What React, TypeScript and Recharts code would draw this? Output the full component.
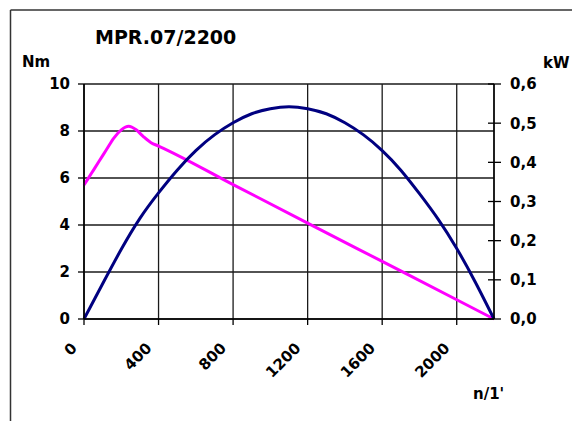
import { LineChart, Line, XAxis, YAxis, CartesianGrid } from "recharts"

const FONT = "'DejaVu Sans', Verdana, sans-serif"

// torque curve, Nm over rpm
const torqueRpm = [0, 40, 80, 120, 160, 200, 240, 280, 320, 360, 400, 800, 1200, 1600, 2000, 2200]
const torqueNm = [5.7, 6.2, 6.7, 7.2, 7.7, 8.05, 8.2, 8.05, 7.75, 7.5, 7.36, 5.72, 4.08, 2.45, 0.82, 0]

// power curve, kW over rpm
const powerRpm = [0, 100, 200, 300, 400, 500, 600, 700, 800, 900, 1000, 1100, 1200, 1300, 1400, 1500, 1600, 1700, 1800, 1900, 2000, 2100, 2200]
const powerKw = [0, 0.09, 0.178, 0.257, 0.322, 0.38, 0.43, 0.47, 0.501, 0.524, 0.537, 0.542, 0.537, 0.524, 0.501, 0.47, 0.43, 0.38, 0.32, 0.255, 0.18, 0.094, 0]

const rpmTicks = [0, 400, 800, 1200, 1600, 2000]
const nmTicks = [0, 2, 4, 6, 8, 10]
const kwTicks = [0, 0.1, 0.2, 0.3, 0.4, 0.5, 0.6]

const torqueData = torqueRpm.map((n, i) => ({ n, nm: torqueNm[i] }))
const powerData = powerRpm.map((n, i) => ({ n, kw: powerKw[i] }))

const labelStyle = { fontFamily: FONT, fontWeight: 700, fontSize: 15, fill: "#000" }

function LeftTick({ x, y, payload }: any) {
  return (
    <g>
      <line x1={x - 6} x2={x} y1={y} y2={y} stroke="#000" strokeWidth={1.3} />
      <text x={x - 14} y={y} dy="0.36em" textAnchor="end" style={labelStyle}>
        {payload.value}
      </text>
    </g>
  )
}

function RightTick({ x, y, payload }: any) {
  return (
    <g>
      <line x1={x - 6} x2={x + 7} y1={y} y2={y} stroke="#000" strokeWidth={1.3} />
      <text x={x + 16} y={y} dy="0.36em" textAnchor="start" style={labelStyle}>
        {payload.value.toFixed(1).replace(".", ",")}
      </text>
    </g>
  )
}

function BottomTick({ x, y, payload }: any) {
  const tx = x - 6
  const ty = y + 30
  return (
    <g>
      <line x1={x} x2={x} y1={y} y2={y + 6} stroke="#000" strokeWidth={1.3} />
      <text x={tx} y={ty} textAnchor="end" transform={`rotate(-45, ${tx}, ${ty})`} style={labelStyle}>
        {payload.value}
      </text>
    </g>
  )
}

export default function App() {
  return (
    <div style={{ position: "absolute", left: 0, top: 0, width: 572, height: 421, background: "#fff" }}>
      <LineChart width={572} height={421} margin={{ top: 84, right: 0, bottom: 0, left: 0 }}>
        <CartesianGrid yAxisId="nm" stroke="#1a1a1a" strokeWidth={1.3} />
        <XAxis
          dataKey="n"
          type="number"
          domain={[0, 2200]}
          ticks={rpmTicks}
          height={102}
          tickSize={0}
          tickMargin={0}
          tickLine={false}
          tick={<BottomTick />}
          axisLine={{ stroke: "#000", strokeWidth: 1.6 }}
          allowDuplicatedCategory={false}
        />
        <YAxis
          yAxisId="nm"
          domain={[0, 10]}
          ticks={nmTicks}
          width={84}
          tickSize={0}
          tickMargin={0}
          tickLine={false}
          tick={<LeftTick />}
          axisLine={{ stroke: "#000", strokeWidth: 1.6 }}
        />
        <YAxis
          yAxisId="kw"
          orientation="right"
          domain={[0, 0.6]}
          ticks={kwTicks}
          width={78}
          tickSize={0}
          tickMargin={0}
          tickLine={false}
          tick={<RightTick />}
          axisLine={{ stroke: "#000", strokeWidth: 1.4 }}
        />
        <Line
          yAxisId="nm"
          data={torqueData}
          dataKey="nm"
          type="monotone"
          stroke="#ff00ff"
          strokeWidth={3}
          dot={false}
          isAnimationActive={false}
        />
        <Line
          yAxisId="kw"
          data={powerData}
          dataKey="kw"
          type="natural"
          stroke="#000080"
          strokeWidth={3}
          dot={false}
          isAnimationActive={false}
        />
      </LineChart>
      <svg width={572} height={421} style={{ position: "absolute", left: 0, top: 0, pointerEvents: "none" }}>
        <line x1={10.5} y1={10} x2={572} y2={10} stroke="#333" strokeWidth={1.5} />
        <line x1={10.5} y1={10} x2={10.5} y2={421} stroke="#333" strokeWidth={1.5} />
        <text x={95} y={44} style={{ ...labelStyle, fontSize: 19 }}>MPR.07/2200</text>
        <text x={22} y={67} style={labelStyle}>Nm</text>
        <text x={543} y={68} style={labelStyle}>kW</text>
        <text x={473} y={399} style={labelStyle}>n/1'</text>
      </svg>
    </div>
  )
}
